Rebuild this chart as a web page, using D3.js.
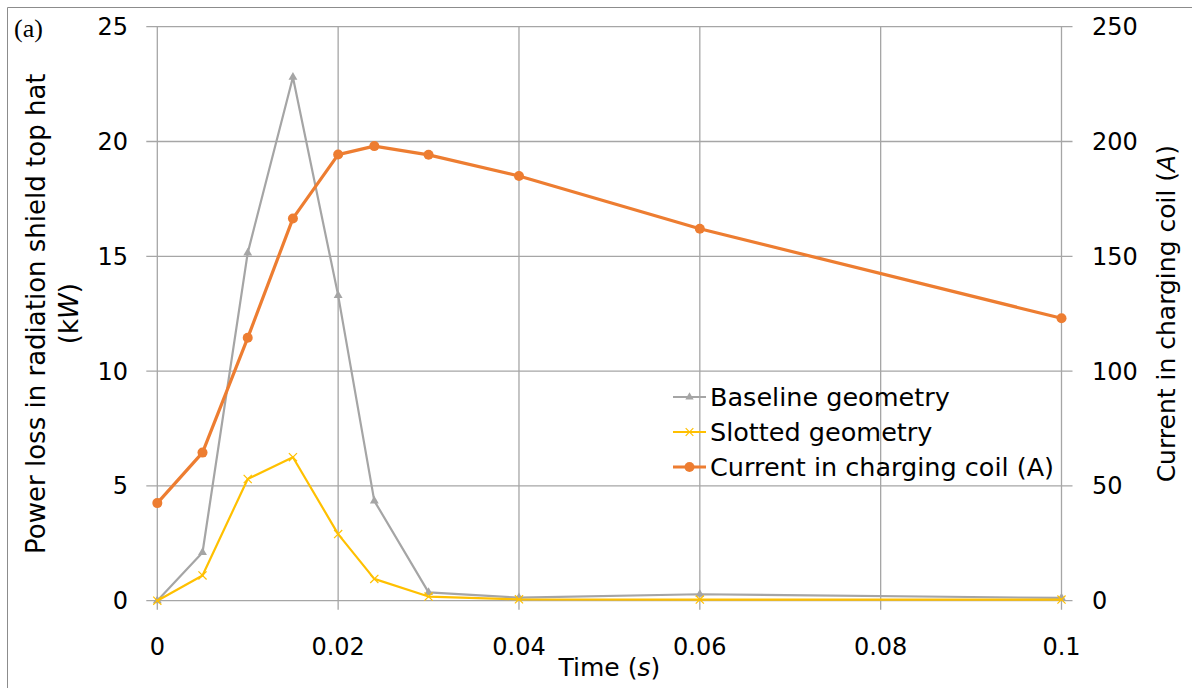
<!DOCTYPE html>
<html>
<head>
<meta charset="utf-8">
<script src="https://cdn.jsdelivr.net/npm/d3@7"></script>
<style>
  body { margin: 0; background: #fff; }
  svg text { font-family: "DejaVu Sans", "Open Sans", sans-serif; fill: #000; }
</style>
</head>
<body>
<div id="graph"></div>
<script>
// Datos
const tiempos = [0, 0.005, 0.01, 0.015, 0.02, 0.024, 0.03, 0.04, 0.06, 0.1];
const baseline = [0, 2.1, 15.15, 22.8, 13.3, 4.35, 0.36, 0.13, 0.28, 0.12];
const slotted = [0, 1.1, 5.3, 6.25, 2.9, 0.95, 0.18, 0.06, 0.05, 0.05];
const corriente = [42.5, 64.5, 114.5, 166.5, 194.3, 198, 194.2, 185, 162, 123];
const xTicks = [0, 0.02, 0.04, 0.06, 0.08, 0.1];
const yTicks = [0, 5, 10, 15, 20, 25];
const y2Ticks = [0, 50, 100, 150, 200, 250];
const nombres = ["Baseline geometry", "Slotted geometry", "Current in charging coil (A)"];

const width = 1192, height = 688;
const svg = d3.select("#graph").append("svg")
    .attr("width", width)
    .attr("height", height);

// marco de la figura
svg.append("path")
    .attr("d", `M7.5,${height} V7.5 H${width}`)
    .attr("fill", "none")
    .attr("stroke", "#8c8c8c")
    .attr("stroke-width", 1);

svg.append("text")
    .attr("x", 14).attr("y", 37)
    .style("font-family", "'Liberation Serif', serif")
    .style("font-size", "26px")
    .text("(a)");

const mIzq = 157.3, mDer = 1061.5, mSup = 26.7, mInf = 600.7;
const x = d3.scaleLinear().domain([0, 0.1]).range([mIzq, mDer]);
const y = d3.scaleLinear().domain([0, 25]).range([mInf, mSup]);
const y2 = d3.scaleLinear().domain([0, 250]).range([mInf, mSup]);

const gridColor = "#a6a6a6";

// rejilla horizontal (con marcas a ambos lados)
svg.append("g").selectAll("line")
    .data(yTicks).enter().append("line")
    .attr("x1", mIzq - 11).attr("x2", mDer + 11)
    .attr("y1", d => y(d)).attr("y2", d => y(d))
    .attr("stroke", gridColor).attr("stroke-width", 1.3);

// rejilla vertical
svg.append("g").selectAll("line")
    .data(xTicks).enter().append("line")
    .attr("x1", d => x(d)).attr("x2", d => x(d))
    .attr("y1", mSup).attr("y2", mInf + 9)
    .attr("stroke", gridColor).attr("stroke-width", 1.3);

// etiquetas de ejes
svg.append("g").selectAll("text")
    .data(yTicks).enter().append("text")
    .attr("x", 128).attr("y", d => y(d))
    .attr("dy", "0.35em")
    .attr("text-anchor", "end")
    .style("font-size", "24px")
    .text(d => d);

svg.append("g").selectAll("text")
    .data(y2Ticks).enter().append("text")
    .attr("x", 1092).attr("y", d => y2(d))
    .attr("dy", "0.35em")
    .style("font-size", "24px")
    .text(d => d);

svg.append("g").selectAll("text")
    .data(xTicks).enter().append("text")
    .attr("x", d => x(d)).attr("y", 647)
    .attr("dy", "0.35em")
    .attr("text-anchor", "middle")
    .style("font-size", "24px")
    .text(d => d);

// títulos
const tx = svg.append("text")
    .attr("x", (mIzq + mDer) / 2).attr("y", 676)
    .attr("text-anchor", "middle")
    .style("font-size", "25px");
tx.append("tspan").text("Time (");
tx.append("tspan").style("font-style", "italic").text("s");
tx.append("tspan").text(")");

const ty = svg.append("g")
    .attr("transform", `translate(0,${(mSup + mInf) / 2}) rotate(-90)`);
ty.append("text")
    .attr("x", 0).attr("y", 45)
    .attr("text-anchor", "middle")
    .style("font-size", "26px")
    .text("Power loss in radiation shield top hat");
const ty2 = ty.append("text")
    .attr("x", 0).attr("y", 78)
    .attr("text-anchor", "middle")
    .style("font-size", "26px");
ty2.append("tspan").text("(k");
ty2.append("tspan").style("font-style", "italic").text("W");
ty2.append("tspan").text(")");

const tr = svg.append("g")
    .attr("transform", `translate(1166,${(mSup + mInf) / 2}) rotate(-90)`)
    .append("text")
    .attr("x", 0).attr("y", 0)
    .attr("dy", "0.35em")
    .attr("text-anchor", "middle")
    .style("font-size", "25px");
tr.append("tspan").text("Current in charging coil (");
tr.append("tspan").style("font-style", "italic").text("A");
tr.append("tspan").text(")");

// series
const colores = ["#a5a5a5", "#ffc000", "#ed7d31"];
const lineaY = d3.line().x((d, i) => x(tiempos[i])).y(d => y(d));
const lineaY2 = d3.line().x((d, i) => x(tiempos[i])).y(d => y2(d));

svg.append("path").datum(baseline)
    .attr("d", lineaY).attr("fill", "none")
    .attr("stroke", colores[0]).attr("stroke-width", 2.2)
    .attr("stroke-linejoin", "round");
svg.append("g").selectAll("path")
    .data(baseline).enter().append("path")
    .attr("d", d3.symbol(d3.symbolTriangle, 34))
    .attr("transform", (d, i) => `translate(${x(tiempos[i])},${y(d)})`)
    .attr("fill", colores[0]);

svg.append("path").datum(slotted)
    .attr("d", lineaY).attr("fill", "none")
    .attr("stroke", colores[1]).attr("stroke-width", 2.2)
    .attr("stroke-linejoin", "round");
svg.append("g").selectAll("path")
    .data(slotted).enter().append("path")
    .attr("d", d3.symbol(d3.symbolTimes, 45))
    .attr("transform", (d, i) => `translate(${x(tiempos[i])},${y(d)})`)
    .attr("fill", "none")
    .attr("stroke", colores[1]).attr("stroke-width", 1.2);

svg.append("path").datum(corriente)
    .attr("d", lineaY2).attr("fill", "none")
    .attr("stroke", colores[2]).attr("stroke-width", 3.2)
    .attr("stroke-linejoin", "round");
svg.append("g").selectAll("circle")
    .data(corriente).enter().append("circle")
    .attr("cx", (d, i) => x(tiempos[i]))
    .attr("cy", d => y2(d))
    .attr("r", 5)
    .attr("fill", colores[2]);

// leyenda
const leyenda = svg.append("g").attr("transform", "translate(673,397)");
nombres.forEach((n, i) => {
    const g = leyenda.append("g").attr("transform", `translate(0,${i * 35})`);
    g.append("line")
        .attr("x1", 0).attr("x2", 33).attr("y1", 0).attr("y2", 0)
        .attr("stroke", colores[i]).attr("stroke-width", i === 2 ? 3.2 : 2.2);
    if (i === 0) {
        g.append("path").attr("d", d3.symbol(d3.symbolTriangle, 30))
            .attr("transform", "translate(16.5,0)").attr("fill", colores[0]);
    } else if (i === 1) {
        g.append("path").attr("d", d3.symbol(d3.symbolTimes, 40))
            .attr("transform", "translate(16.5,0)").attr("fill", "none")
            .attr("stroke", colores[1]).attr("stroke-width", 1.2);
    } else {
        g.append("circle").attr("cx", 16.5).attr("cy", 0).attr("r", 5).attr("fill", colores[2]);
    }
    g.append("text")
        .attr("x", 37).attr("y", 0).attr("dy", "0.35em")
        .style("font-size", "25.5px")
        .text(n);
});
</script>
</body>
</html>
